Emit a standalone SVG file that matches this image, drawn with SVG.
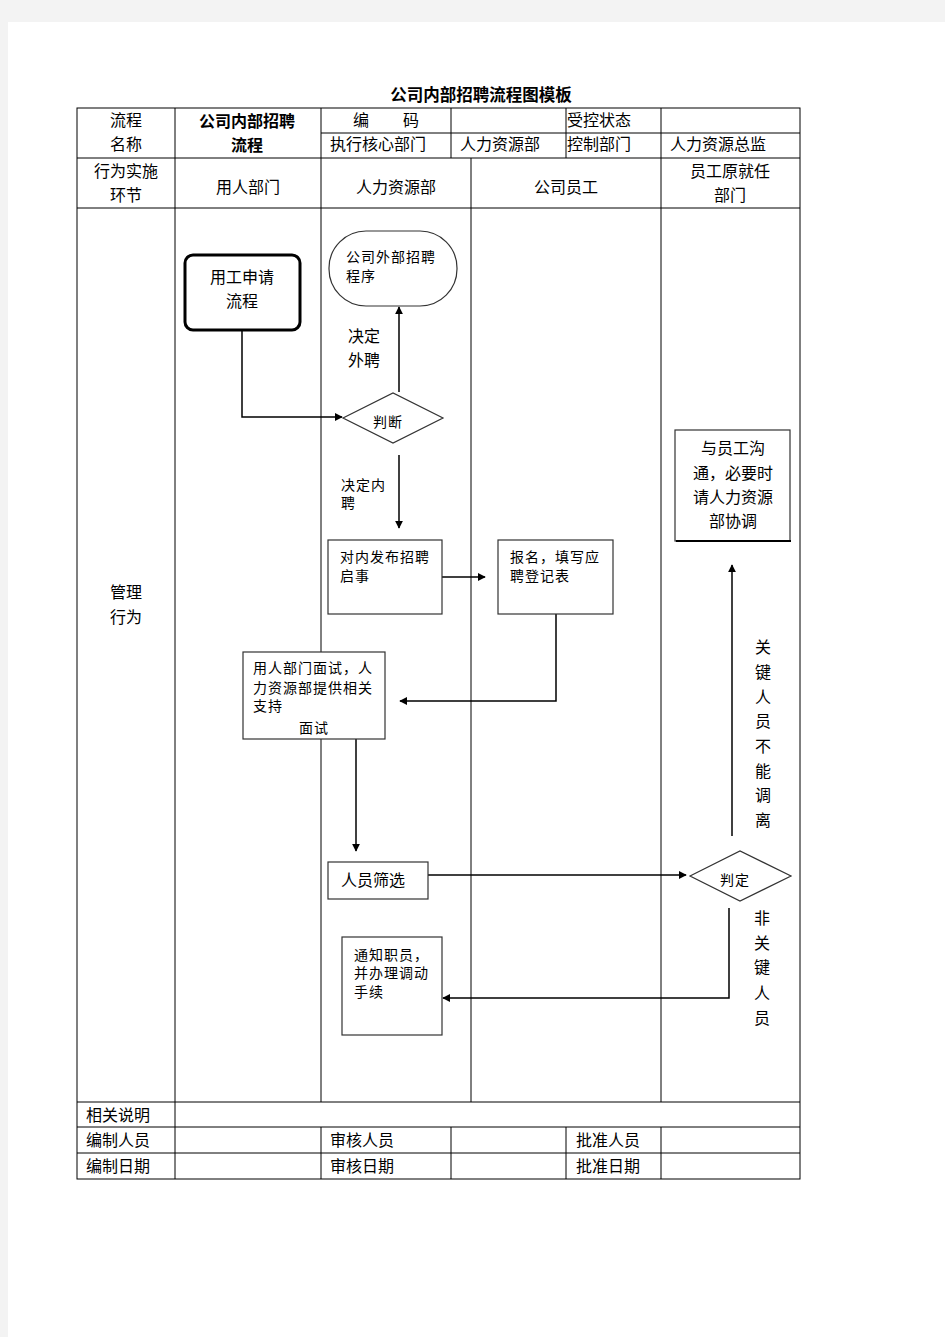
<svg xmlns="http://www.w3.org/2000/svg" width="945" height="1337" viewBox="0 0 945 1337">
<style>
text{font-family:"Liberation Sans","Noto Sans CJK SC",sans-serif;fill:#000}
.t{font-size:16px}
.s{font-size:14px;letter-spacing:1px}
.c{text-anchor:middle}
.b{font-weight:bold}
.grid line{stroke:#000;stroke-width:1}
.box{fill:#fff;stroke:#333;stroke-width:1.2}
.cn{fill:none;stroke:#000;stroke-width:1.5}
</style>
<defs>
<marker id="ah" viewBox="0 0 10 10" refX="9" refY="5" markerWidth="8" markerHeight="8" markerUnits="userSpaceOnUse" orient="auto"><path d="M0,0 L10,5 L0,10 Z" fill="#000"/></marker>
</defs>
<rect width="945" height="1337" fill="#f3f3f3"/>
<rect x="8" y="22" width="937" height="1315" fill="#fff"/>
<text x="481" y="101" class="c b" style="font-size:16.5px">公司内部招聘流程图模板</text>
<g id="table" class="grid">
<rect x="77" y="108" width="723" height="1071" fill="none" stroke="#000" stroke-width="1"/>
<line x1="321" y1="133" x2="800" y2="133"/>
<line x1="77" y1="158" x2="800" y2="158"/>
<line x1="77" y1="208" x2="800" y2="208"/>
<line x1="77" y1="1102" x2="800" y2="1102"/>
<line x1="77" y1="1127" x2="800" y2="1127"/>
<line x1="77" y1="1153" x2="800" y2="1153"/>
<line x1="175" y1="108" x2="175" y2="1179"/>
<line x1="321" y1="108" x2="321" y2="1102"/>
<line x1="451" y1="108" x2="451" y2="158"/>
<line x1="566" y1="108" x2="566" y2="158"/>
<line x1="661" y1="108" x2="661" y2="1102"/>
<line x1="471" y1="158" x2="471" y2="1102"/>
<line x1="321" y1="1127" x2="321" y2="1179"/>
<line x1="451" y1="1127" x2="451" y2="1179"/>
<line x1="566" y1="1127" x2="566" y2="1179"/>
<line x1="661" y1="1127" x2="661" y2="1179"/>
</g>
<g id="table-text" class="t">
<text x="126" y="126" class="c">流程</text>
<text x="126" y="150" class="c">名称</text>
<text x="247" y="127" class="c b">公司内部招聘</text>
<text x="247" y="151" class="c b">流程</text>
<text x="353" y="126">编</text>
<text x="403" y="126">码</text>
<text x="567" y="126">受控状态</text>
<text x="330" y="150">执行核心部门</text>
<text x="460" y="150">人力资源部</text>
<text x="567" y="150">控制部门</text>
<text x="670" y="150">人力资源总监</text>
<text x="126" y="177" class="c">行为实施</text>
<text x="126" y="201" class="c">环节</text>
<text x="248" y="193" class="c">用人部门</text>
<text x="396" y="193" class="c">人力资源部</text>
<text x="566" y="193" class="c">公司员工</text>
<text x="730" y="177" class="c">员工原就任</text>
<text x="730" y="201" class="c">部门</text>
<text x="126" y="598" class="c">管理</text>
<text x="126" y="623" class="c">行为</text>
<text x="86" y="1121">相关说明</text>
<text x="86" y="1146">编制人员</text>
<text x="330" y="1146">审核人员</text>
<text x="576" y="1146">批准人员</text>
<text x="86" y="1172">编制日期</text>
<text x="330" y="1172">审核日期</text>
<text x="576" y="1172">批准日期</text>
</g>
<g id="connectors">
<polyline class="cn" points="242,330 242,417 342,417" marker-end="url(#ah)"/>
<line class="cn" x1="399" y1="392" x2="399" y2="307" marker-end="url(#ah)"/>
<line class="cn" x1="399" y1="455" x2="399" y2="528" marker-end="url(#ah)"/>
<line class="cn" x1="442" y1="577" x2="485" y2="577" marker-end="url(#ah)"/>
<polyline class="cn" points="556,614 556,701 400,701" marker-end="url(#ah)"/>
<line class="cn" x1="356" y1="739" x2="356" y2="851" marker-end="url(#ah)"/>
<line class="cn" x1="428" y1="875" x2="686" y2="875" marker-end="url(#ah)"/>
<line class="cn" x1="732" y1="836" x2="732" y2="565" marker-end="url(#ah)"/>
<polyline class="cn" points="729,908 729,998 443,998" marker-end="url(#ah)"/>
<g class="t">
<text x="348" y="342">决定</text>
<text x="348" y="366">外聘</text>
</g>
<g class="s">
<text x="341" y="490">决定内</text>
<text x="341" y="508">聘</text>
</g>
<g class="t c">
<text x="763" y="653">关</text>
<text x="763" y="678">键</text>
<text x="763" y="703">人</text>
<text x="763" y="727">员</text>
<text x="763" y="752">不</text>
<text x="763" y="777">能</text>
<text x="763" y="801">调</text>
<text x="763" y="826">离</text>
<text x="762" y="924">非</text>
<text x="762" y="949">关</text>
<text x="762" y="973">键</text>
<text x="762" y="999">人</text>
<text x="762" y="1024">员</text>
</g>
</g>
<g id="n-apply">
<rect x="185" y="255" width="115" height="75" rx="8" fill="#fff" stroke="#000" stroke-width="3"/>
<text x="242" y="283" class="t c">用工申请</text>
<text x="242" y="307" class="t c">流程</text>
</g>
<g id="n-external">
<rect x="329" y="231" width="128" height="75" rx="37" class="box"/>
<text x="346" y="262" class="s">公司外部招聘</text>
<text x="346" y="281" class="s">程序</text>
</g>
<g id="n-judge">
<polygon points="343,418 393,393 443,418 393,443" class="box"/>
<text x="388" y="427" class="s c">判断</text>
</g>
<g id="n-publish">
<rect x="328" y="540" width="114" height="74" class="box"/>
<text x="340" y="562" class="s">对内发布招聘</text>
<text x="340" y="581" class="s">启事</text>
</g>
<g id="n-signup">
<rect x="498" y="540" width="115" height="74" class="box"/>
<text x="510" y="562" class="s">报名，填写应</text>
<text x="510" y="581" class="s">聘登记表</text>
</g>
<g id="n-interview">
<rect x="243" y="652" width="142" height="87" class="box"/>
<text x="253" y="673" class="s">用人部门面试，人</text>
<text x="253" y="693" class="s">力资源部提供相关</text>
<text x="253" y="711" class="s">支持</text>
<text x="314" y="733" class="s c">面试</text>
</g>
<g id="n-screen">
<rect x="328" y="862" width="100" height="37" class="box"/>
<text x="341" y="886" class="t">人员筛选</text>
</g>
<g id="n-decide">
<polygon points="690,876 740,851 791,876 740,901" class="box"/>
<text x="735" y="885" class="s c">判定</text>
</g>
<g id="n-communicate">
<rect x="675" y="430" width="115" height="111" fill="#fff" stroke="#333" stroke-width="1.2"/>
<line x1="676" y1="541" x2="791" y2="541" stroke="#000" stroke-width="2"/>
<text x="733" y="454" class="t c">与员工沟</text>
<text x="733" y="479" class="t c">通，必要时</text>
<text x="733" y="503" class="t c">请人力资源</text>
<text x="733" y="527" class="t c">部协调</text>
</g>
<g id="n-notify">
<rect x="342" y="937" width="100" height="98" class="box"/>
<text x="354" y="960" class="s">通知职员，</text>
<text x="354" y="978" class="s">并办理调动</text>
<text x="354" y="997" class="s">手续</text>
</g>
</svg>
